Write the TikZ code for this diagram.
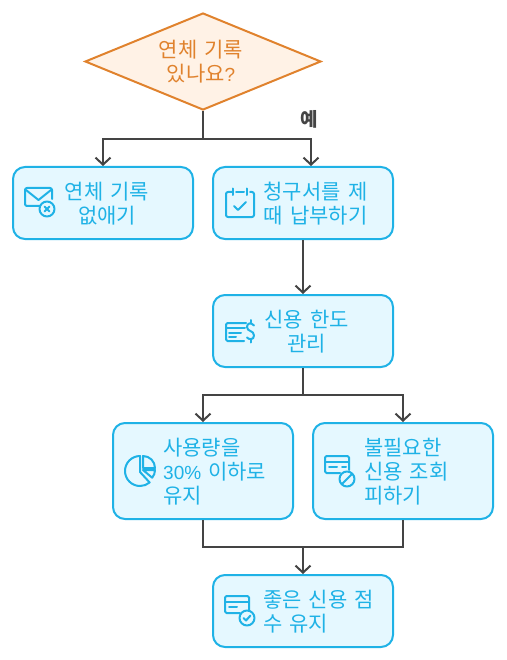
\documentclass[tikz,border=0pt]{standalone}
\usepackage{fontspec}
\setmainfont[WordSpace=1.5]{Noto Sans CJK KR}
\newfontfamily\latinf{Liberation Sans}
\usetikzlibrary{shapes.geometric,arrows.meta,calc}
\definecolor{bluel}{HTML}{1FB2E6}
\definecolor{bluef}{HTML}{E5F8FF}
\definecolor{oranl}{HTML}{E0822D}
\definecolor{oranf}{HTML}{FFF2E6}
\definecolor{linec}{HTML}{444444}
\newcommand{\ltn}[1]{{\latinf\fontsize{19}{24}\selectfont #1}}
\tikzset{
  boxn/.style={draw=bluel,fill=bluef,line width=2pt,rounded corners=12pt,minimum width=180pt,inner sep=0pt},
  txt/.style={text=bluel,font=\fontsize{21}{24}\selectfont,inner sep=0pt,anchor=center},
  conn/.style={draw=linec,line width=2pt},
  arr/.style={conn,-{Straight Barb[length=7pt,width=15pt,line width=2pt]}},
  ico/.style={draw=bluel,line width=2pt,line join=round,line cap=round},
}
\begin{document}
\begin{tikzpicture}[x=1pt,y=-1pt]
\useasboundingbox (0,0) rectangle (506,660);
% nodes
\node[diamond,draw=oranl,fill=oranf,line width=2pt,minimum width=236pt,minimum height=97pt,inner sep=0pt,aspect=2.43] (d) at (203,61.5) {};
\node[boxn,minimum height=72pt] (a) at (103,203) {};
\node[boxn,minimum height=72pt] (b) at (303,203) {};
\node[boxn,minimum height=72pt] (c) at (303,331) {};
\node[boxn,minimum height=96pt] (e) at (203,471) {};
\node[boxn,minimum height=96pt] (f) at (403,471) {};
\node[boxn,minimum height=72pt] (g) at (303,611) {};
% labels
\node[txt,text=oranl,align=center] (dt) at (201,61.5) {연체 기록\\있나요\ltn{?}};
\node[txt,align=center] (at) at (107,203.5) {연체 기록\\없애기};
\node[txt,align=center] (bt) at (315.5,203.5) {청구서를 제\\때 납부하기};
\node[txt,align=center] (ct) at (306.5,331.5) {신용 한도\\관리};
\node[txt,align=left,anchor=west] (et) at (163,471.5) {사용량을\\\ltn{30\%} 이하로\\유지};
\node[txt,align=left,anchor=west] (ft) at (364,471.5) {불필요한\\신용 조회\\피하기};
\node[txt,align=left,anchor=west] (gt) at (263,611.5) {좋은 신용 점\\수 유지};
\node[text=linec,font=\fontsize{19}{20}\selectfont\bfseries,inner sep=0pt] (yes) at (309,119) {예};
% connectors
\coordinate (j1) at (203,139);
\coordinate (bin) at (311,166);
\coordinate (j2) at (303,395);
\coordinate (j3) at (303,547);
\draw[conn] (d.south) -- (j1);
\draw[arr] (j1) -| (a.north);
\draw[arr] (j1) -| (bin);
\draw[arr] (b.south) -- (c.north);
\draw[conn] (c.south) -- (j2);
\draw[arr] (j2) -| (e.north);
\draw[arr] (j2) -| (f.north);
\draw[conn] (e.south) |- (j3);
\draw[conn] (f.south) |- (j3);
\draw[arr] (j3) -- (g.north);
% icon: envelope with cross
\draw[ico,rounded corners=2pt] (40,206) -- (25,206) -- (25,188) -- (52,188) -- (52,199);
\draw[ico] (26,190) -- (38.5,200) -- (51,190);
\draw[ico,fill=bluef] (47,209) circle (7.5);
\draw[ico] (44.5,206.5) -- (49.5,211.5) (49.5,206.5) -- (44.5,211.5);
% icon: calendar check
\draw[ico,rounded corners=2pt] (232,192) -- (226,192) -- (226,217) -- (254,217) -- (254,192) -- (250,192);
\draw[ico] (233,188.5) -- (233,195) (247,188.5) -- (247,195) (236,192) -- (244,192);
\draw[ico] (234,206) -- (238,210) -- (246,202);
% icon: card dollar
\draw[ico,rounded corners=1.5pt] (246,323) -- (226,323) -- (226,341) -- (244,341);
\draw[ico] (227,328) -- (245,328) (229,333) -- (241,333) (229,337) -- (236,337);
\draw[ico] (254,325.5) .. controls (251,322) and (247,323) .. (247,327) .. controls (247,332) and (254,330) .. (254,335.5) .. controls (254,340) and (249,340) .. (247,337.5);
\draw[ico] (251,320) -- (251,322.5) (251,340) -- (251,342.5);
% icon: pie chart
\draw[ico] (140,456) arc (-90:-310:15) -- (140,472) -- cycle;
\draw[ico] (143,456) arc (-90:0:12) -- (143,468) -- cycle;
\draw[ico] (143,470) -- (155,470) arc (0:40:12) -- cycle;
% icon: card ban
\draw[ico,rounded corners=1.5pt] (340,473) -- (325,473) -- (325,456) -- (349,456) -- (349,470);
\draw[ico] (326,462) -- (348,462) (329,467) -- (337,467) (342,467) -- (346,467);
\draw[ico,fill=bluef] (347,479) circle (7.5);
\draw[ico] (342,484) -- (352,474);
% icon: card check
\draw[ico,rounded corners=1.5pt] (240,613) -- (225,613) -- (225,596) -- (249,596) -- (249,610);
\draw[ico] (226,602) -- (248,602) (229,607) -- (237,607);
\draw[ico,fill=bluef] (247,618) circle (7.5);
\draw[ico] (243.5,618) -- (246,620.5) -- (250.5,615.5);
\end{tikzpicture}
\end{document}
